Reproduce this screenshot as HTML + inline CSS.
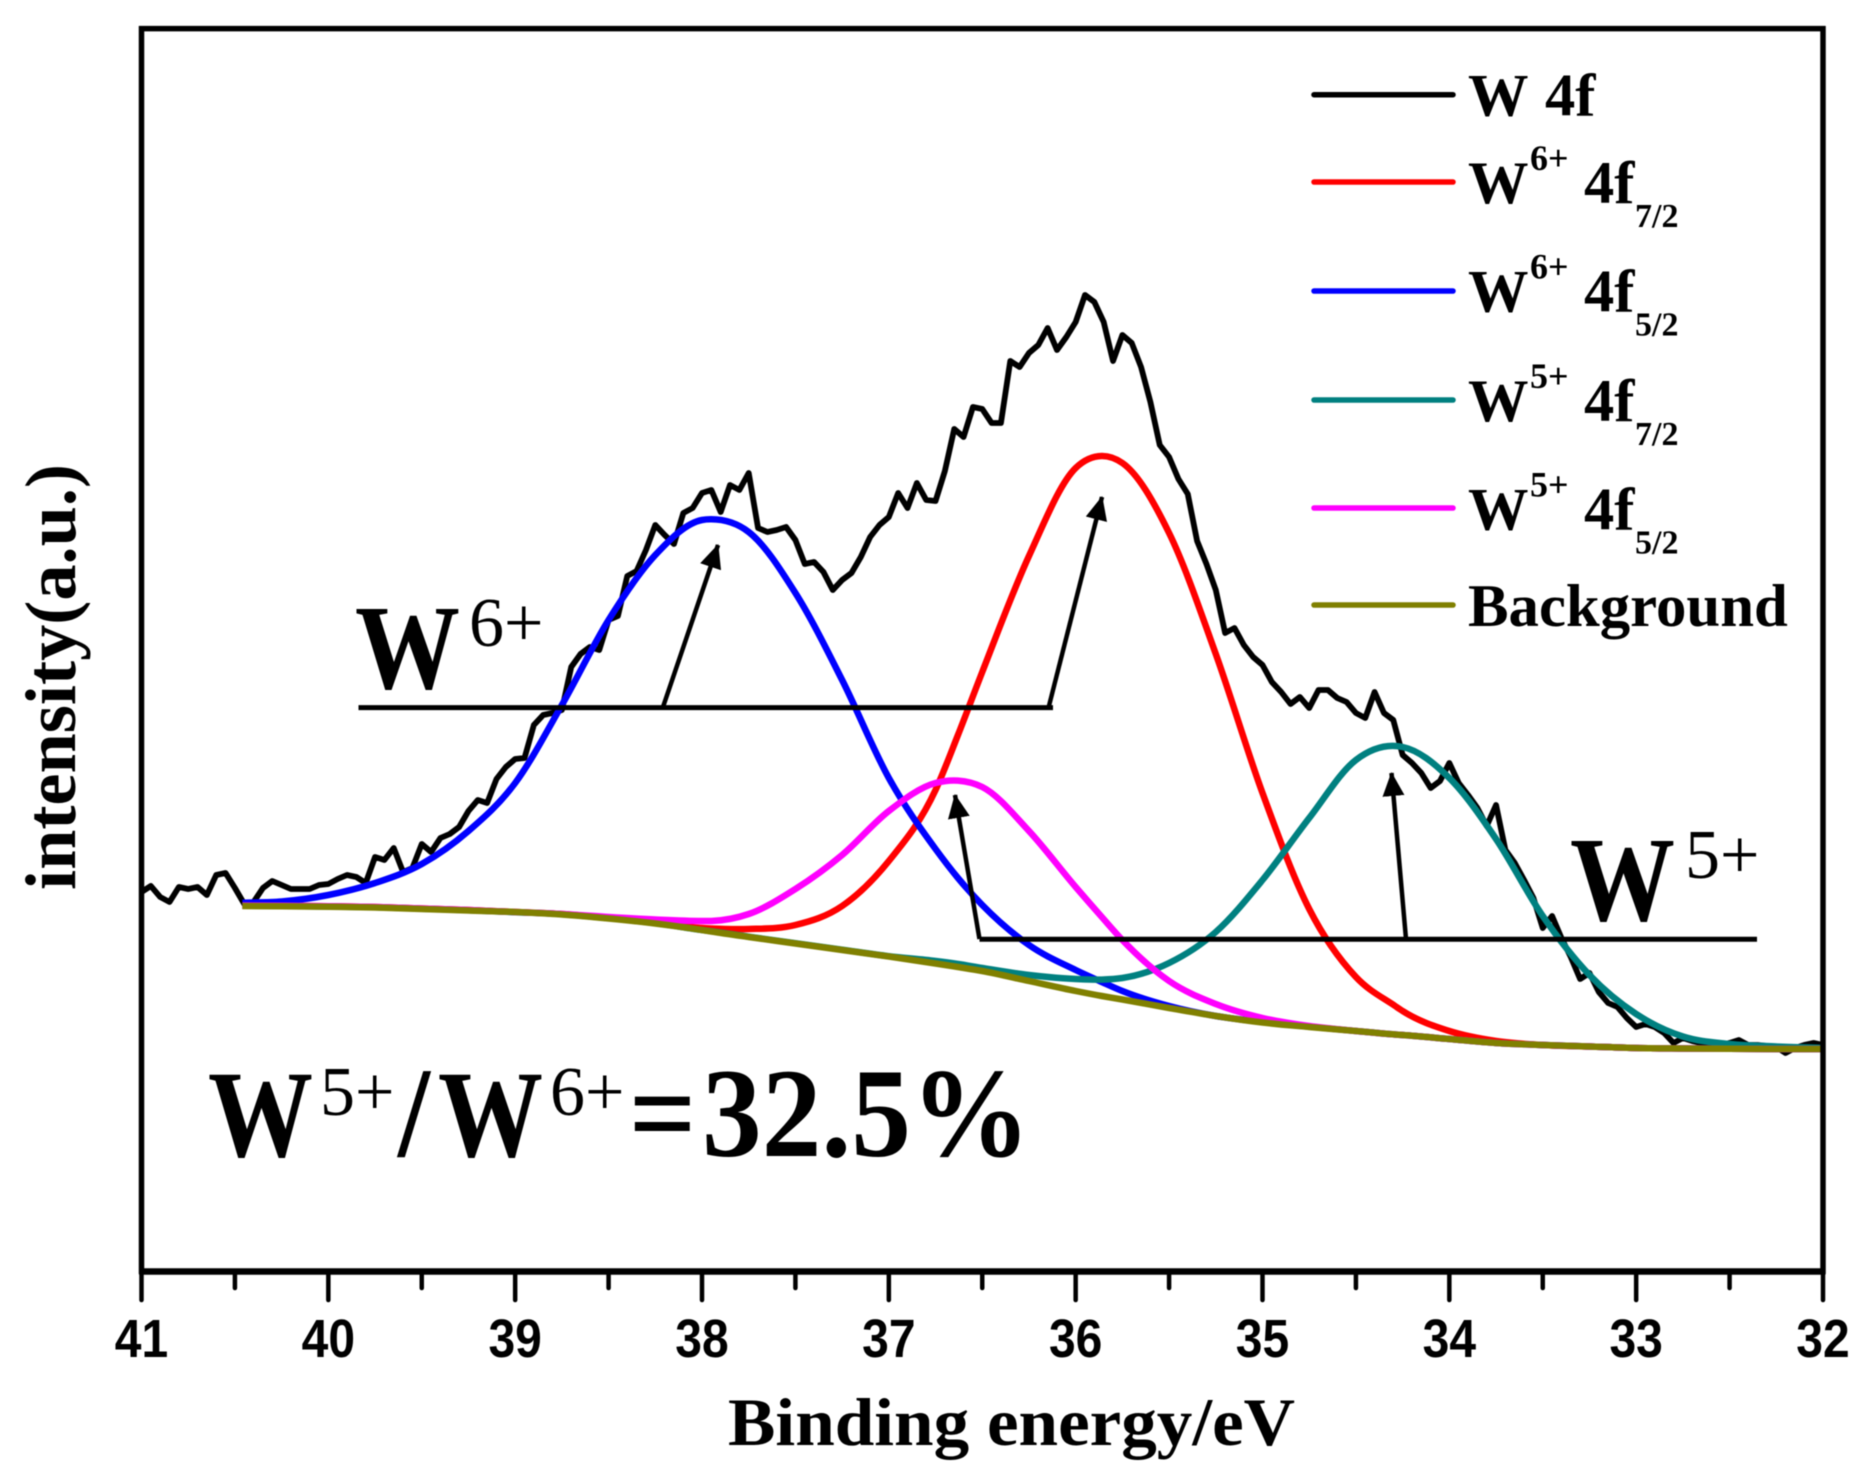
<!DOCTYPE html>
<html lang="en">
<head>
<meta charset="utf-8">
<title>W 4f XPS spectrum</title>
<style>
html,body{margin:0;padding:0;background:#fff;}
svg{display:block;filter:blur(0.5px);}
text{fill:#000;font-family:"Liberation Serif",serif;font-weight:bold;}
.leg{font-size:60.5px;}
.sup{font-size:36px;}
.sub{font-size:34px;}
.big{font-size:105px;}
.ion{font-size:70px;font-weight:normal;}
</style>
</head>
<body>
<svg id="chart" xmlns="http://www.w3.org/2000/svg" width="1866" height="1480" viewBox="0 0 1866 1480">
  <defs>
    <marker id="arrow-head" markerUnits="userSpaceOnUse" markerWidth="24" markerHeight="22" refX="23" refY="11" orient="auto">
      <path d="M0,0 L24,11 L0,22 Z" fill="#000"></path>
    </marker>
  </defs>
  <rect x="0" y="0" width="1866" height="1480" fill="#fff"></rect>

  <g id="series"></g>

  <g>
    <line x1="358.5" y1="707.6" x2="1053" y2="707.6" stroke="#000" stroke-width="5"></line>
    <line x1="663" y1="707" x2="718" y2="545" stroke="#000" stroke-width="4.5" marker-end="url(#arrow-head)"></line>
    <line x1="1048.7" y1="707" x2="1102" y2="497" stroke="#000" stroke-width="4.5" marker-end="url(#arrow-head)"></line>
    <text class="big" transform="translate(355,688) scale(1,1.15)">W</text>
    <text class="ion" x="469" y="646">6+</text>
  </g>
  <g>
    <line x1="979.5" y1="939.3" x2="1757" y2="939.3" stroke="#000" stroke-width="5"></line>
    <line x1="979.5" y1="939" x2="955" y2="795" stroke="#000" stroke-width="4.5" marker-end="url(#arrow-head)"></line>
    <line x1="1406" y1="939" x2="1391.5" y2="773" stroke="#000" stroke-width="4.5" marker-end="url(#arrow-head)"></line>
    <text class="big" transform="translate(1570,920) scale(1,1.15)">W</text>
    <text class="ion" x="1685" y="878">5+</text>
  </g>
  <g>
    <text class="big" transform="translate(208,1156) scale(1,1.18)">W</text>
    <text class="ion" x="320" y="1115">5+</text>
    <text font-size="115" transform="translate(398,1156) scale(1,1.12)">/</text>
    <text class="big" transform="translate(438,1156) scale(1,1.18)">W</text>
    <text class="ion" x="550" y="1115">6+</text>
    <text font-size="118" transform="translate(629,1156) scale(1,1.08)">=</text>
    <text font-size="118" transform="translate(702,1156) scale(1.012,1.08)">32.5%</text>
  </g>

  <g stroke="#000" fill="none">
    <line x1="141.5" y1="26" x2="141.5" y2="1274" stroke-width="5.5"></line>
    <line x1="139" y1="28.6" x2="1825.5" y2="28.6" stroke-width="5.5"></line>
    <line x1="1823" y1="26" x2="1823" y2="1274" stroke-width="5.5"></line>
    <line x1="139" y1="1271.5" x2="1825.5" y2="1271.5" stroke-width="6.5"></line>
  </g>
  <g id="ticks"></g>

  <text x="728" y="1445" font-size="68" textLength="567" lengthAdjust="spacingAndGlyphs">Binding energy/eV</text>
  <text font-size="72" textLength="426" lengthAdjust="spacingAndGlyphs" transform="translate(75,890) rotate(-90)">intensity(a.u.)</text>

  <g>
    <g>
      <line x1="1314" y1="94.7" x2="1453" y2="94.7" stroke="#000" stroke-width="5.5" stroke-linecap="round"></line>
      <text class="leg" x="1468" y="115.7">W<tspan x="1545">4f</tspan></text>
    </g>
    <g>
      <line x1="1314" y1="182" x2="1453" y2="182" stroke="#ff0000" stroke-width="5.5" stroke-linecap="round"></line>
      <text class="leg" x="1468" y="203">W<tspan class="sup" x="1530" y="170">6+</tspan><tspan x="1584" y="203">4f</tspan><tspan class="sub" x="1635" y="227">7/2</tspan></text>
    </g>
    <g>
      <line x1="1314" y1="291" x2="1453" y2="291" stroke="#0000ff" stroke-width="5.5" stroke-linecap="round"></line>
      <text class="leg" x="1468" y="311.5">W<tspan class="sup" x="1530" y="278.5">6+</tspan><tspan x="1584" y="311.5">4f</tspan><tspan class="sub" x="1635" y="335.5">5/2</tspan></text>
    </g>
    <g>
      <line x1="1314" y1="400" x2="1453" y2="400" stroke="#008080" stroke-width="5.5" stroke-linecap="round"></line>
      <text class="leg" x="1468" y="421">W<tspan class="sup" x="1530" y="388">5+</tspan><tspan x="1584" y="421">4f</tspan><tspan class="sub" x="1635" y="445">7/2</tspan></text>
    </g>
    <g>
      <line x1="1314" y1="508" x2="1453" y2="508" stroke="#ff00ff" stroke-width="5.5" stroke-linecap="round"></line>
      <text class="leg" x="1468" y="529.5">W<tspan class="sup" x="1530" y="496.5">5+</tspan><tspan x="1584" y="529.5">4f</tspan><tspan class="sub" x="1635" y="553.5">5/2</tspan></text>
    </g>
    <g>
      <line x1="1314" y1="605" x2="1453" y2="605" stroke="#808000" stroke-width="5.5" stroke-linecap="round"></line>
      <text class="leg" x="1468" y="626" style="font-size:60.8px">Background</text>
    </g>
  </g>
</svg>
<script>
const majorTicks = [41, 40, 39, 38, 37, 36, 35, 34, 33, 32];
const minorTicks = [40.5, 39.5, 38.5, 37.5, 36.5, 35.5, 34.5, 33.5, 32.5];

const w4fEnergies = [41,40.95,40.9,40.85,40.8,40.75,40.7,40.65,40.6,40.55,40.5,40.45,40.4,40.35,40.3,40.25,40.2,40.15,40.1,40.05,40,39.95,39.9,39.85,39.8,39.75,39.7,39.65,39.6,39.55,39.5,39.45,39.4,39.35,39.3,39.25,39.2,39.15,39.1,39.05,39,38.95,38.9,38.85,38.8,38.75,38.7,38.65,38.6,38.55,38.5,38.45,38.4,38.35,38.3,38.25,38.2,38.15,38.1,38.05,38,37.95,37.9,37.85,37.8,37.75,37.7,37.65,37.6,37.55,37.5,37.45,37.4,37.35,37.3,37.25,37.2,37.15,37.1,37.05,37,36.95,36.9,36.85,36.8,36.75,36.7,36.65,36.6,36.55,36.5,36.45,36.4,36.35,36.3,36.25,36.2,36.15,36.1,36.05,36,35.95,35.9,35.85,35.8,35.75,35.7,35.65,35.6,35.55,35.5,35.45,35.4,35.35,35.3,35.25,35.2,35.15,35.1,35.05,35,34.95,34.9,34.85,34.8,34.75,34.7,34.65,34.6,34.55,34.5,34.45,34.4,34.35,34.3,34.25,34.2,34.15,34.1,34.05,34,33.95,33.9,33.85,33.8,33.75,33.7,33.65,33.6,33.55,33.5,33.45,33.4,33.35,33.3,33.25,33.2,33.15,33.1,33.05,33,32.95,32.9,32.85,32.8,32.75,32.7,32.65,32.6,32.55,32.5,32.45,32.4,32.35,32.3,32.25,32.2,32.15,32.1,32.05,32];
const w4fValues = [379,385,374,369,384,382,384,376,396,398,383,367,369,383,390,386,382,382,382,386,387,392,396,394,388,414,411,423,399,403,427,419,433,437,444,460,471,468,492,504,512,513,546,556,558,561,604,617,624,621,651,655,695,700,721,746,736,727,758,763,778,781,759,786,781,798,743,739,741,744,731,707,709,699,681,691,698,714,734,746,754,778,763,788,771,770,800,842,834,864,862,848,848,910,904,918,926,943,921,934,949,976,969,949,910,936,928,904,869,826,814,792,777,730,707,681,638,643,626,614,606,589,579,567,574,563,581,581,573,569,558,553,579,558,551,516,508,498,483,490,508,488,476,463,445,466,421,408,391,373,343,355,333,314,292,298,279,268,264,253,244,247,244,238,228,233,230,228,226,226,228,231,226,226,225,224,218,223,226,228,226];

const fitEnergies = [40.46,40.25,40,39.75,39.5,39.25,39,38.75,38.5,38.25,38,37.95,37.75,37.5,37.25,37,36.75,36.63,36.5,36.25,36,35.86,35.75,35.5,35.25,35,34.75,34.5,34.29,34.25,34,33.75,33.5,33.25,33,32.75,32.5,32.25,32];
const w6f72Values = [365.5,365.2,364.7,364,362.5,361,359,357,353,348,343,342.5,342,346,365,410,481,536,599,715,803,815,808,738,617,478,362,294,265,260,240,230,226,224.5,223,222.5,222.2,222,222];
const w6f52Values = [368.3,369.5,376,388,407,440,488,566,651,716,751,751.7,739,678,591,493,422,393,366,326,301,289,280,265,255,249,244.3,240,236.5,236,232,228,226,224.5,223,222.5,222.2,222,222];
const w5f72Values = [365.3,365,364.5,363.8,362.3,360.8,358.8,356.8,352.8,347.8,341,339.8,334.3,327.8,321.3,314.8,310,307,303,296,292,291.4,293,308,339,391,453,511,525,524,493,432,355,296,257,234.5,227,224.5,223];
const w5f52Values = [365.5,365.2,364.7,364,362.5,361,359,357,354,351.5,350,350,357,382,416,460,488,490.4,484,440,384,354,331,290,267,253,245,240,236.5,236,232,228,226,224.5,223,222.5,222.2,222,222];
const backgroundValues = [365,364.7,364.2,363.5,362,360.5,359,356.5,352.5,347.5,341,339.5,334,327.5,321,314.5,307.5,304,300,290,280,275,271.5,263,255,248.5,244,240,236.5,236,232,228,226,224.5,223,222.5,222.2,222,222];

const SVGNS = 'http://www.w3.org/2000/svg';
const xDomain = [41, 32];
const xRange = [141.5, 1823];
const yDomain = [0, 1242];
const yRange = [1271, 29];

function xScale(v) {
  return xRange[0] + (v - xDomain[0]) / (xDomain[1] - xDomain[0]) * (xRange[1] - xRange[0]);
}
function yScale(v) {
  return yRange[0] + (v - yDomain[0]) / (yDomain[1] - yDomain[0]) * (yRange[1] - yRange[0]);
}
function linePath(xs, ys) {
  let d = '';
  for (let i = 0; i < xs.length; i++) {
    d += (i ? 'L' : 'M') + xScale(xs[i]).toFixed(2) + ',' + yScale(ys[i]).toFixed(2);
  }
  return d;
}
function smoothPath(xs, ys) {
  const p = xs.map(function (x, i) { return [xScale(x), yScale(ys[i])]; });
  const last = p.length - 1;
  const slope = p.map(function (_, i) {
    if (i === 0) return (p[1][1] - p[0][1]) / (p[1][0] - p[0][0]);
    if (i === last) return (p[last][1] - p[last - 1][1]) / (p[last][0] - p[last - 1][0]);
    const h0 = p[i][0] - p[i - 1][0], h1 = p[i + 1][0] - p[i][0];
    const d0 = (p[i][1] - p[i - 1][1]) / h0, d1 = (p[i + 1][1] - p[i][1]) / h1;
    return (h1 * d0 + h0 * d1) / (h0 + h1);
  });
  let d = 'M' + p[0][0].toFixed(2) + ',' + p[0][1].toFixed(2);
  for (let i = 0; i < last; i++) {
    const h = (p[i + 1][0] - p[i][0]) / 3;
    d += 'C' + (p[i][0] + h).toFixed(2) + ',' + (p[i][1] + slope[i] * h).toFixed(2) + ' ' +
      (p[i + 1][0] - h).toFixed(2) + ',' + (p[i + 1][1] - slope[i + 1] * h).toFixed(2) + ' ' +
      p[i + 1][0].toFixed(2) + ',' + p[i + 1][1].toFixed(2);
  }
  return d;
}

const seriesLayer = document.getElementById('series');

const w4fLine = document.createElementNS(SVGNS, 'path');


w4fLine.setAttribute('d', linePath(w4fEnergies, w4fValues));
w4fLine.setAttribute('fill', 'none');
w4fLine.setAttribute('stroke', '#000');
w4fLine.setAttribute('stroke-width', '5.8');
w4fLine.setAttribute('stroke-linejoin', 'round');
seriesLayer.appendChild(w4fLine);

const w6f72Line = document.createElementNS(SVGNS, 'path');


w6f72Line.setAttribute('d', smoothPath(fitEnergies, w6f72Values));
w6f72Line.setAttribute('fill', 'none');
w6f72Line.setAttribute('stroke', '#ff0000');
w6f72Line.setAttribute('stroke-width', '6.5');
seriesLayer.appendChild(w6f72Line);

const w6f52Line = document.createElementNS(SVGNS, 'path');


w6f52Line.setAttribute('d', smoothPath(fitEnergies, w6f52Values));
w6f52Line.setAttribute('fill', 'none');
w6f52Line.setAttribute('stroke', '#0000ff');
w6f52Line.setAttribute('stroke-width', '6.5');
seriesLayer.appendChild(w6f52Line);

const w5f72Line = document.createElementNS(SVGNS, 'path');


w5f72Line.setAttribute('d', smoothPath(fitEnergies, w5f72Values));
w5f72Line.setAttribute('fill', 'none');
w5f72Line.setAttribute('stroke', '#008080');
w5f72Line.setAttribute('stroke-width', '6.5');
seriesLayer.appendChild(w5f72Line);

const w5f52Line = document.createElementNS(SVGNS, 'path');


w5f52Line.setAttribute('d', smoothPath(fitEnergies, w5f52Values));
w5f52Line.setAttribute('fill', 'none');
w5f52Line.setAttribute('stroke', '#ff00ff');
w5f52Line.setAttribute('stroke-width', '6.5');
seriesLayer.appendChild(w5f52Line);

const backgroundLine = document.createElementNS(SVGNS, 'path');


backgroundLine.setAttribute('d', smoothPath(fitEnergies, backgroundValues));
backgroundLine.setAttribute('fill', 'none');
backgroundLine.setAttribute('stroke', '#808000');
backgroundLine.setAttribute('stroke-width', '6.5');
seriesLayer.appendChild(backgroundLine);

const tickLayer = document.getElementById('ticks');
majorTicks.forEach(function (t) {
  const tick = document.createElementNS(SVGNS, 'line');
  
  
  tick.setAttribute('x1', xScale(t));
  tick.setAttribute('x2', xScale(t));
  tick.setAttribute('y1', 1271);
  tick.setAttribute('y2', 1300);
  tick.setAttribute('stroke', '#000');
  tick.setAttribute('stroke-width', '4.5');
  tick.setAttribute('stroke-linecap', 'round');
  tickLayer.appendChild(tick);

  const label = document.createElementNS(SVGNS, 'text');
  
  
  label.setAttribute('transform', 'translate(' + xScale(t) + ',1357) scale(1,1.13)');
  label.setAttribute('text-anchor', 'middle');
  label.setAttribute('style', 'font-family:"Liberation Sans",sans-serif;font-weight:bold;font-size:48px;');
  label.textContent = String(t);
  tickLayer.appendChild(label);
});
minorTicks.forEach(function (t) {
  const tick = document.createElementNS(SVGNS, 'line');
  
  
  tick.setAttribute('x1', xScale(t));
  tick.setAttribute('x2', xScale(t));
  tick.setAttribute('y1', 1271);
  tick.setAttribute('y2', 1288);
  tick.setAttribute('stroke', '#000');
  tick.setAttribute('stroke-width', '4.5');
  tick.setAttribute('stroke-linecap', 'round');
  tickLayer.appendChild(tick);
});
</script>
</body>
</html>
